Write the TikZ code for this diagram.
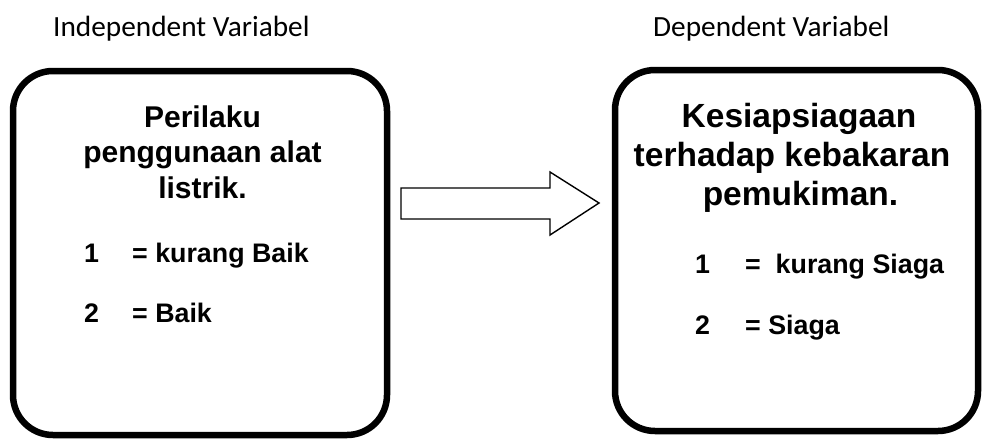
\documentclass[tikz,border=0pt]{standalone}
\usepackage{fontspec}
\usetikzlibrary{calc}
\setmainfont{Liberation Sans}
\newfontfamily\labelfont{Carlito}
\begin{document}
\begin{tikzpicture}[x=1pt,y=-1pt,
  varbox/.style={draw=black,line width=6.5pt,rounded corners=40pt},
  headlabel/.style={font=\labelfont\fontsize{29.3}{34}\selectfont,anchor=base west,inner sep=0pt},
  titleL/.style={font=\bfseries\fontsize{30}{36}\selectfont,anchor=base,inner sep=0pt},
  titleR/.style={font=\bfseries\fontsize{33.5}{40}\selectfont,anchor=base,inner sep=0pt},
  item/.style={font=\bfseries\fontsize{26.8}{32}\selectfont,anchor=base west,inner sep=0pt},
  blockarrow/.style={draw=black,line width=1.4pt,fill=white,line join=miter}]
\useasboundingbox (0,0) rectangle (984,439);

% column headings
\node[headlabel] (indep) at (53,36) {Independent Variabel};
\node[headlabel] (dep) at (653,36) {Dependent Variabel};

% variable boxes
\draw[varbox] (13,71) rectangle (387,435);
\draw[varbox] (615,70) rectangle (978,431);
\coordinate (boxL) at (387,203);
\coordinate (boxR) at (615,203);

% independent variable
\node[titleL] (l1) at (202.5,127) {Perilaku};
\node[titleL] (l2) at (202.5,162.5) {penggunaan alat};
\node[titleL] (l3) at (202.5,198) {listrik.};
\node[item] (ln1) at (84,262) {1};
\node[item] (lv1) at (132,262) {= kurang Baik};
\node[item] (ln2) at (84,322) {2};
\node[item] (lv2) at (132,322) {= Baik};

% dependent variable
\node[titleR] (r1) at (799,127) {Kesiapsiagaan};
\node[titleR] (r2) at (792,166) {terhadap kebakaran};
\node[titleR] (r3) at (800.5,205) {pemukiman.};
\node[item] (rn1) at (695,273) {1};
\node[item] (rv1) at (745,273) {=\ \ kurang Siaga};
\node[item] (rn2) at (695,334) {2};
\node[item] (rv2) at (745,334) {= Siaga};

% block arrow from the independent to the dependent variable
\draw[blockarrow] ($(boxL)+(14,-15)$) -- (550,188) -- (550,172)
  -- ($(boxR)+(-16,0)$) -- (550,235) -- (550,219) -- ($(boxL)+(14,16)$) -- cycle;
\end{tikzpicture}
\end{document}
